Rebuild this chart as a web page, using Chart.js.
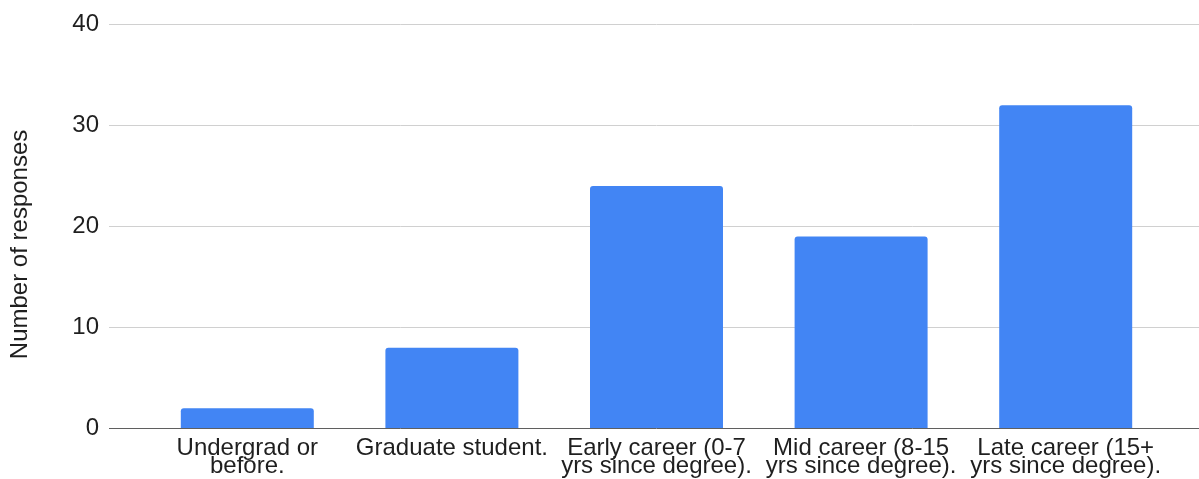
<!DOCTYPE html>
<html>
<head>
<meta charset="utf-8">
<script src="https://cdn.jsdelivr.net/npm/chart.js@4.4.1/dist/chart.umd.min.js"></script>
<style>
  body { margin: 0; background: #fff; }
  #wrap { width: 1199px; height: 479px; }
</style>
</head>
<body>
<div id="wrap"><canvas id="myChart"></canvas></div>
<script>
const categories = [
  ["Undergrad or", "before."],
  ["Graduate student."],
  ["Early career (0-7", "yrs since degree)."],
  ["Mid career (8-15", "yrs since degree)."],
  ["Late career (15+", "yrs since degree)."]
];
const responses = [2, 8, 24, 19, 32];
const yTicks = [0, 10, 20, 30, 40];
const yTitle = "Number of responses";

const FONT = "'Liberation Sans', Arial, sans-serif";
const TEXT = "#1f1f1f";
const gridColor = (ctx) => (ctx.tick && ctx.tick.value === 0 ? "#5f5f5f" : "#d0d0d0");

// y-axis title sits a bit lower than the plot centre, so draw it ourselves
const yTitlePlugin = {
  id: "yTitle",
  afterDraw(chart) {
    const { ctx, chartArea, scales } = chart;
    const x = scales.y.left + 20;
    const y = (chartArea.top + chartArea.bottom) / 2 + 18;
    ctx.save();
    ctx.translate(x, y);
    ctx.rotate(-Math.PI / 2);
    ctx.font = "24px " + FONT;
    ctx.fillStyle = TEXT;
    ctx.textAlign = "center";
    ctx.textBaseline = "middle";
    ctx.fillText(yTitle, 0, 0);
    ctx.restore();
  },
};

const ctx = document.getElementById("myChart");
new Chart(ctx, {
  type: "bar",
  data: {
    labels: categories,
    datasets: [
      {
        label: yTitle,
        data: responses,
        backgroundColor: "#4285F4",
        borderWidth: 0,
        borderRadius: { topLeft: 3, topRight: 3 },
        borderSkipped: "start",
        categoryPercentage: 1,
        barPercentage: 0.65,
      },
    ],
  },
  plugins: [yTitlePlugin],
  options: {
    responsive: true,
    maintainAspectRatio: false,
    animation: false,
    layout: { padding: { top: 22, bottom: 0, left: 0, right: 0 } },
    plugins: {
      legend: { display: false },
      tooltip: { enabled: false },
    },
    scales: {
      x: {
        afterFit: (scale) => {
          scale.height = 50.5;
        },
        grid: { display: false, drawTicks: false },
        border: { display: false },
        ticks: {
          color: TEXT,
          font: { family: FONT, size: 24, lineHeight: 0.75 },
          maxRotation: 0,
          autoSkip: false,
          padding: 10.5,
        },
      },
      y: {
        position: "left",
        min: yTicks[0],
        max: yTicks[yTicks.length - 1],
        afterBuildTicks: (scale) => {
          scale.ticks = yTicks.map((v) => ({ value: v }));
        },
        afterFit: (scale) => {
          scale.width = 145;
        },
        grid: { color: gridColor, lineWidth: 1, tickLength: 36 },
        border: { display: false },
        ticks: {
          color: TEXT,
          font: { family: FONT, size: 24 },
          padding: 10,
        },
      },
      y2: {
        position: "right",
        min: yTicks[0],
        max: yTicks[yTicks.length - 1],
        afterBuildTicks: (scale) => {
          scale.ticks = yTicks.map((v) => ({ value: v }));
        },
        grid: { color: gridColor, lineWidth: 1, tickLength: 31, drawOnChartArea: false },
        border: { display: false },
        ticks: { display: false },
      },
    },
  },
});
</script>
</body>
</html>
